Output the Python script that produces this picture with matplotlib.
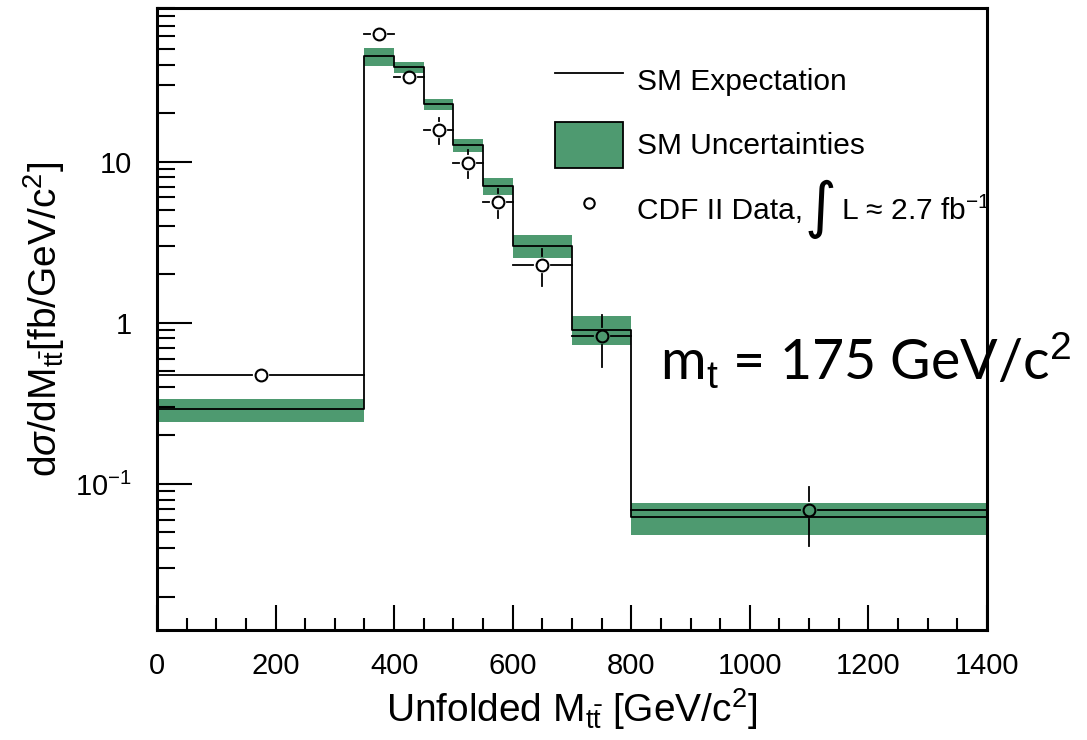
import numpy as np
import matplotlib
matplotlib.use("Agg")
import matplotlib.pyplot as plt
from matplotlib.lines import Line2D
from matplotlib.patches import Patch
from matplotlib.ticker import FixedLocator, FixedFormatter, NullFormatter

plt.rcParams['font.family'] = ['Liberation Sans', 'DejaVu Sans']
plt.rcParams['mathtext.fontset'] = 'custom'
plt.rcParams['mathtext.rm'] = 'Liberation Sans'
plt.rcParams['mathtext.it'] = 'Liberation Sans:italic'

# bin edges in Mtt [GeV/c^2]
edges = [0, 350, 400, 450, 500, 550, 600, 700, 800, 1400]

# SM expectation and its band
sm_val = [0.292, 45.4, 38.6, 22.7, 12.7, 7.07, 3.02, 0.905, 0.0621]
sm_hi = [0.336, 50.5, 41.7, 24.5, 13.8, 7.89, 3.51, 1.10, 0.0764]
sm_lo = [0.244, 39.4, 35.3, 21.0, 11.5, 6.22, 2.54, 0.73, 0.0483]

# CDF II data
data_x = [175, 375, 425, 475, 525, 575, 650, 750, 1100]
data_y = [0.476, 62.1, 33.6, 15.7, 9.86, 5.63, 2.27, 0.834, 0.0686]
data_up = [0.50, 64.0, 35.0, 18.6, 11.8, 6.77, 2.86, 1.12, 0.0955]
data_dn = [0.45, 60.0, 32.0, 12.9, 7.96, 4.50, 1.70, 0.53, 0.041]

green = '#4e9a70'

fig = plt.figure(figsize=(10.87, 7.40), dpi=100)
ax = fig.add_axes([0.1444, 0.1486, 0.7636, 0.8406])
ax.set_yscale('log')
ax.set_xlim(0, 1400)
ax.set_ylim(0.0124, 90)

e = np.array(edges)
# band
ax.fill_between(e, sm_lo + [sm_lo[-1]], sm_hi + [sm_hi[-1]], step='post',
                color=green, lw=0, zorder=1)
# SM line
ax.step(e, sm_val + [sm_val[-1]], where='post', color='black', lw=1.3, zorder=2)

# data error bars, ROOT style: a small gap left around the marker
gap = 9  # pixels
to_pix = ax.transData.transform
to_dat = ax.transData.inverted().transform
for i, (x, y) in enumerate(zip(data_x, data_y)):
    cx, cy = to_pix((x, y))
    ends = [(e[i], y, -gap, 0), (e[i + 1], y, gap, 0),
            (x, data_dn[i], 0, -gap), (x, data_up[i], 0, gap)]
    for ex, ey, dx, dy in ends:
        px, py = to_pix((ex, ey))
        if abs(px - cx) + abs(py - cy) > gap:
            sx, sy = to_dat((cx + dx, cy + dy))
            ax.plot([sx, ex], [sy, ey], color='black', lw=1.3, zorder=3)
ax.plot(data_x, data_y, 'o', ms=8.5, mfc='none', mec='black', mew=1.5, zorder=5)

ax.xaxis.set_major_locator(FixedLocator(np.arange(0, 1401, 200)))
ax.xaxis.set_minor_locator(FixedLocator(np.arange(0, 1401, 50)))
ax.yaxis.set_major_locator(FixedLocator([0.1, 1, 10]))
ax.yaxis.set_major_formatter(FixedFormatter(['10$^{-1}$', '1', '10']))
minors = [m * 10.0 ** k for k in range(-2, 2) for m in range(2, 10)]
ax.yaxis.set_minor_locator(FixedLocator(minors))
ax.yaxis.set_minor_formatter(NullFormatter())

ax.tick_params(axis='both', which='both', direction='in', top=False, right=False,
               width=1.5, labelsize=21)
ax.tick_params(axis='y', which='major', length=25, pad=18)
ax.tick_params(axis='y', which='minor', length=13)
ax.tick_params(axis='x', which='major', length=18, pad=16)
ax.tick_params(axis='x', which='minor', length=9)
for s in ax.spines.values():
    s.set_linewidth(2.2)

ax.set_xlabel(r'Unfolded M$_{\mathrm{t\bar{t}}}$ [GeV/c$^{2}$]', fontsize=28, labelpad=4)
ax.set_ylabel(r'd$\sigma$/dM$_{\mathrm{t\bar{t}}}$[fb/GeV/c$^{2}$]', fontsize=28, labelpad=6)

handles = [Line2D([], [], color='black', lw=1.3),
           Patch(facecolor=green, edgecolor='black', lw=1.3),
           Line2D([], [], marker='o', ls='none', ms=7.5, mfc='white', mec='black', mew=1.5)]
labels = ['SM Expectation', 'SM Uncertainties', 'CDF II Data,']
leg = ax.legend(handles, labels, loc='upper left', bbox_to_anchor=(0.461, 0.945),
                frameon=False, fontsize=21.5, handlelength=2.3, handleheight=2.0,
                labelspacing=0.62, handletextpad=0.45, borderpad=0)

# rest of the data label, with a tall integral sign, placed after the layout is known
fig.canvas.draw()
bb = leg.get_texts()[2].get_window_extent()
fw, fh = fig.bbox.width, fig.bbox.height
integ = fig.text((bb.x1 + 2) / fw, (bb.y0 + 0.55 * bb.height) / fh, '\u222b',
                 fontsize=44, va='center', ha='left', family=['DejaVu Sans'])
fig.canvas.draw()
ib = integ.get_window_extent()
fig.text((ib.x1 + 4) / fw, (bb.y0 + 0.5 * bb.height) / fh, 'L \u2248 2.7 fb$^{-1}$',
         fontsize=21.5, va='center', ha='left')

fig.text(0.607, 0.487, r'm$_{\mathrm{t}}$ = 175 GeV/c$^{2}$', fontsize=40,
         family=['Lato', 'DejaVu Sans'])

fig.savefig('out.png', dpi=100)
